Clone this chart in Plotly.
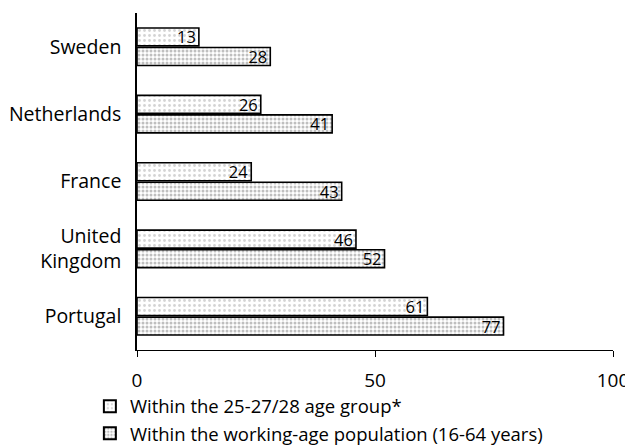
import plotly.graph_objects as go

countries = ["Sweden", "Netherlands", "France", "United<br>Kingdom", "Portugal"]
age_group = [13, 26, 24, 46, 61]
working_age = [28, 41, 43, 52, 77]
series_names = ["Within the 25-27/28 age group*",
                "Within the working-age population (16-64 years)"]
x_ticks = [0, 50, 100]

FONT = "Open Sans"

fig = go.Figure()
fig.add_trace(go.Bar(
    y=countries, x=age_group, orientation="h", name=series_names[0],
    text=[str(v) for v in age_group], textposition="inside", insidetextanchor="end",
    textangle=0,
    textfont=dict(color="black", size=16.5, family=FONT),
    marker=dict(color="white", line=dict(color="black", width=1.6),
                pattern=dict(shape=".", fgcolor="#aaaaaa", bgcolor="white",
                             size=5, solidity=0.25, fillmode="overlay")),
))
fig.add_trace(go.Bar(
    y=countries, x=working_age, orientation="h", name=series_names[1],
    text=[str(v) for v in working_age], textposition="inside", insidetextanchor="end",
    textangle=0,
    textfont=dict(color="black", size=16.5, family=FONT),
    marker=dict(color="white", line=dict(color="black", width=1.6),
                pattern=dict(shape=".", fgcolor="#808080", bgcolor="white",
                             size=4, solidity=0.45, fillmode="overlay")),
))

fig.update_layout(
    width=625, height=438,
    margin=dict(l=129, r=20, t=5, b=96, autoexpand=False),
    paper_bgcolor="white", plot_bgcolor="white",
    barmode="group", bargap=0.42, bargroupgap=0.08,
    font=dict(family=FONT, size=19.5, color="black"),
    showlegend=True,
    legend=dict(x=-0.099, xanchor="left", y=-0.112, yanchor="top",
                font=dict(size=18.5, family=FONT), tracegroupgap=0,
                bgcolor="rgba(0,0,0,0)", itemsizing="constant"),
    uniformtext=dict(mode="show", minsize=16),
)
fig.update_xaxes(range=[0, 100], tickvals=x_ticks, ticktext=[str(t) for t in x_ticks],
                 showline=True, linecolor="black", linewidth=1.2,
                 ticks="outside", ticklen=6, tickcolor="black",
                 showgrid=False, zeroline=False, ticklabelstandoff=7,
                 tickfont=dict(size=19), automargin=False)
fig.update_yaxes(autorange="reversed", showline=True, linecolor="black", linewidth=1.5,
                 ticks="", showgrid=False, ticklabelstandoff=10,
                 tickfont=dict(size=19.5), automargin=False)

fig.write_html("out.html")
